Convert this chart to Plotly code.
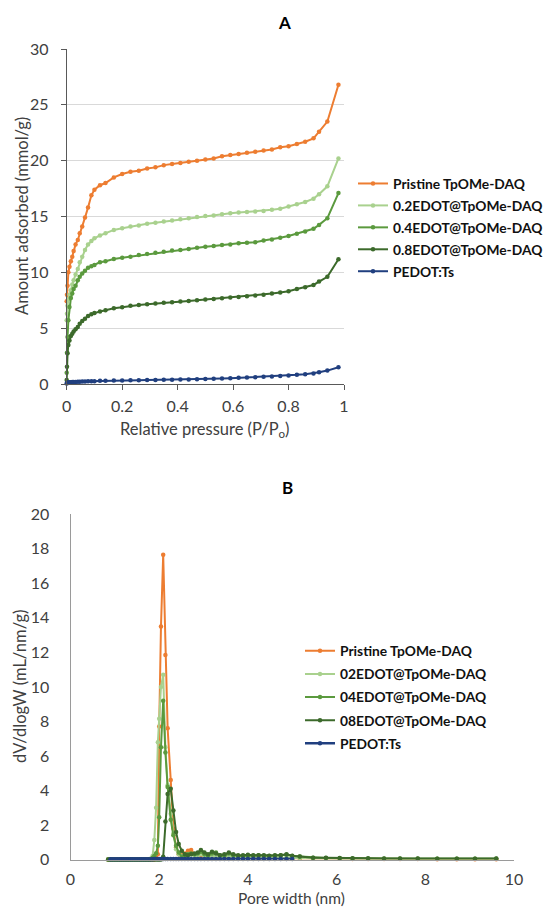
import plotly.graph_objects as go

# ---------------- Panel A : N2 isotherms ----------------
rel_pressure = [0.0, 0.001, 0.003, 0.006, 0.01, 0.015, 0.02, 0.025, 0.032, 0.04, 0.047, 0.056, 0.066, 0.077, 0.089, 0.1,
                0.12, 0.14, 0.17, 0.20, 0.23, 0.26, 0.29, 0.32, 0.35, 0.38, 0.41, 0.44, 0.47, 0.50, 0.53, 0.56, 0.59,
                0.62, 0.65, 0.68, 0.71, 0.74, 0.77, 0.80, 0.83, 0.86, 0.89, 0.91, 0.94, 0.98]

ads_pristine = [7.4, 8.0, 8.8, 10.0, 10.5, 11.0, 11.4, 11.9, 12.5, 12.9, 13.5, 14.1, 14.9, 15.8, 16.9, 17.4,
                17.8, 18.0, 18.5, 18.8, 19.0, 19.1, 19.3, 19.4, 19.6, 19.7, 19.8, 19.9, 20.0, 20.1, 20.2, 20.4, 20.5,
                20.6, 20.7, 20.8, 20.9, 21.0, 21.2, 21.3, 21.5, 21.7, 22.0, 22.6, 23.5, 26.8]
ads_02 = [5.7, 6.3, 7.0, 7.6, 8.0, 8.4, 8.9, 9.3, 9.8, 10.3, 10.9, 11.4, 12.0, 12.5, 12.8, 13.05,
          13.3, 13.5, 13.8, 13.95, 14.1, 14.2, 14.35, 14.45, 14.55, 14.65, 14.75, 14.85, 14.95, 15.05, 15.1, 15.2, 15.3,
          15.35, 15.4, 15.45, 15.5, 15.6, 15.7, 15.9, 16.1, 16.3, 16.6, 17.0, 17.7, 20.2]
ads_04 = [1.0, 2.8, 4.2, 5.7, 6.9, 7.7, 8.1, 8.5, 8.8, 9.3, 9.6, 9.9, 10.15, 10.4, 10.55, 10.66,
          10.9, 11.0, 11.2, 11.3, 11.4, 11.55, 11.65, 11.75, 11.85, 11.95, 12.0, 12.1, 12.2, 12.3, 12.35, 12.45, 12.5,
          12.6, 12.65, 12.7, 12.85, 12.95, 13.1, 13.25, 13.45, 13.65, 13.9, 14.25, 14.85, 17.1]
ads_08 = [0.35, 1.55, 2.75, 3.5, 3.9, 4.3, 4.5, 4.7, 4.9, 5.1, 5.4, 5.65, 5.85, 6.1, 6.25, 6.35,
          6.5, 6.6, 6.78, 6.87, 7.0, 7.08, 7.15, 7.22, 7.28, 7.33, 7.38, 7.44, 7.5, 7.56, 7.62, 7.68, 7.75,
          7.8, 7.86, 7.92, 8.0, 8.1, 8.2, 8.3, 8.5, 8.66, 8.87, 9.17, 9.6, 11.17]
ads_pedot = [0.05, 0.1, 0.12, 0.14, 0.15, 0.16, 0.17, 0.18, 0.19, 0.2, 0.21, 0.22, 0.23, 0.24, 0.25, 0.25,
             0.28, 0.3, 0.31, 0.32, 0.33, 0.34, 0.35, 0.36, 0.37, 0.38, 0.4, 0.41, 0.43, 0.45, 0.47, 0.49, 0.52,
             0.55, 0.58, 0.61, 0.64, 0.68, 0.72, 0.77, 0.82, 0.88, 0.95, 1.05, 1.2, 1.5]

names_a = ["Pristine TpOMe-DAQ", "0.2EDOT@TpOMe-DAQ", "0.4EDOT@TpOMe-DAQ", "0.8EDOT@TpOMe-DAQ", "PEDOT:Ts"]

# ---------------- Panel B : pore size distribution ----------------
pore_width = [0.85, 0.90, 0.95, 1.00, 1.05, 1.10, 1.15, 1.20, 1.25, 1.30, 1.35, 1.40, 1.45, 1.50, 1.55, 1.60, 1.65,
              1.70, 1.75, 1.80, 1.85,
              1.89, 1.93, 1.97, 2.00, 2.04, 2.09, 2.14, 2.19, 2.26, 2.32, 2.38, 2.44, 2.51, 2.58, 2.65, 2.72, 2.80,
              2.87, 2.94, 3.02,
              3.10, 3.19, 3.28, 3.37, 3.47, 3.57, 3.67, 3.78, 3.89, 4.00,
              4.12, 4.24, 4.36, 4.48, 4.61, 4.74, 4.87, 5.00,
              5.17, 5.47, 5.76, 6.07, 6.36, 6.71, 7.07, 7.43, 7.83, 8.27, 8.71, 9.12, 9.60]

psd_pristine = [0, 0, 0, 0, 0, 0, 0, 0, 0, 0, 0, 0, 0, 0, 0, 0, 0, 0, 0, 0, 0,
                0.0, 0.05, 0.3, 7.7, 13.5, 17.66, 11.85, 7.6, 4.6, 1.8, 0.7, 0.3, 0.25, 0.35, 0.5, 0.55, 0.3, 0.2, 0.15, 0.12,
                0.1, 0.12, 0.1, 0.1, 0.09, 0.1, 0.08, 0.08, 0.07, 0.07,
                0.07, 0.06, 0.06, 0.06, 0.06, 0.05, 0.05, 0.05,
                0.05, 0.04, 0.04, 0.04, 0.03, 0.03, 0.03, 0.03, 0.03, 0.02, 0.02, 0.02, 0.02]
psd_02 = [0, 0, 0, 0, 0, 0, 0, 0, 0, 0, 0, 0, 0, 0, 0, 0, 0, 0, 0, 0.05, 0.2,
          1.13, 3.0, 6.8, 8.15, 10.0, 10.7, 6.5, 4.3, 2.65, 1.5, 0.6, 0.3, 0.2, 0.25, 0.3, 0.3, 0.2, 0.25, 0.3, 0.2,
          0.15, 0.2, 0.15, 0.12, 0.15, 0.2, 0.12, 0.12, 0.1, 0.12,
          0.1, 0.12, 0.1, 0.1, 0.12, 0.1, 0.1, 0.08,
          0.08, 0.07, 0.06, 0.06, 0.05, 0.05, 0.05, 0.05, 0.04, 0.04, 0.04, 0.04, 0.04]
psd_04 = [0, 0, 0, 0, 0, 0, 0, 0, 0, 0, 0, 0, 0, 0, 0, 0, 0, 0, 0, 0, 0.1,
          0.2, 0.36, 0.8, 2.45, 6.5, 9.2, 6.2, 4.2, 2.3, 1.4, 0.8, 0.4, 0.16, 0.2, 0.3, 0.35, 0.3, 0.35, 0.45, 0.3,
          0.2, 0.35, 0.4, 0.25, 0.2, 0.35, 0.25, 0.2, 0.2, 0.22,
          0.22, 0.25, 0.22, 0.2, 0.22, 0.25, 0.28, 0.2,
          0.17, 0.1, 0.08, 0.07, 0.06, 0.05, 0.05, 0.05, 0.05, 0.04, 0.04, 0.04, 0.04]
psd_08 = [0, 0, 0, 0, 0, 0, 0, 0, 0, 0, 0, 0, 0, 0, 0, 0, 0, 0, 0, 0, 0,
          0, 0, 0, 0, 0, 0.16, 2.2, 3.8, 4.1, 2.84, 1.6, 0.9, 0.5, 0.3, 0.25, 0.3, 0.35, 0.4, 0.55, 0.4,
          0.3, 0.45, 0.35, 0.25, 0.3, 0.4, 0.3, 0.25, 0.25, 0.28,
          0.25, 0.25, 0.25, 0.22, 0.25, 0.25, 0.3, 0.22,
          0.17, 0.1, 0.1, 0.08, 0.07, 0.07, 0.06, 0.06, 0.06, 0.05, 0.05, 0.05, 0.06]
pedot_width = pore_width[1:59]
psd_pedot = [0.02, 0.02, 0.02, 0.02, 0.02, 0.02, 0.02, 0.02, 0.02, 0.02, 0.02, 0.02, 0.02, 0.02, 0.02, 0.02, 0.02,
             0.02, 0.02, 0.02,
             0.03, 0.03, 0.03, 0.03, 0.03, 0.03, 0.03, 0.03, 0.03, 0.03, 0.03, 0.03, 0.03, 0.03, 0.03, 0.03, 0.03,
             0.03, 0.03, 0.03,
             0.03, 0.03, 0.03, 0.03, 0.03, 0.03, 0.03, 0.03, 0.03, 0.03,
             0.03, 0.03, 0.03, 0.03, 0.03, 0.03, 0.03, 0.03]

names_b = ["Pristine TpOMe-DAQ", "02EDOT@TpOMe-DAQ", "04EDOT@TpOMe-DAQ", "08EDOT@TpOMe-DAQ", "PEDOT:Ts"]

colors = ["#ED7D31", "#A9D18E", "#5B9A3E", "#3C6A2B", "#203F7F"]

# the page body has an 8 px margin: the figure is drawn 8 px in from the window corner
OFF = 8
W, H = 555 - OFF, 907 - OFF
FONT = "Lato, 'Open Sans', sans-serif"
TXT = "#404040"

def px_x(p):
    return (p - OFF) / W

def px_y(p):
    return 1 - (p - OFF) / H

fig = go.Figure()

series_a = [ads_pristine, ads_02, ads_04, ads_08, ads_pedot]
for i, (nm, ys, c) in enumerate(zip(names_a, series_a, colors)):
    fig.add_trace(go.Scatter(
        x=rel_pressure, y=ys, name=nm, mode="lines+markers",
        line=dict(color=c, width=2), marker=dict(color=c, size=4.5),
        xaxis="x", yaxis="y", legend="legend", legendgroup="a%d" % i,
        cliponaxis=False, showlegend=True))

series_b = [(pore_width, psd_pristine), (pore_width, psd_02), (pore_width, psd_04),
            (pore_width, psd_08), (pedot_width, psd_pedot)]
for i, (nm, (xs, ys), c) in enumerate(zip(names_b, series_b, colors)):
    fig.add_trace(go.Scatter(
        x=xs, y=ys, name=nm, mode="lines+markers",
        line=dict(color=c, width=2.5 if i == 4 else 2), marker=dict(color=c, size=4.5),
        xaxis="x2", yaxis="y2", legend="legend2", legendgroup="b%d" % i,
        cliponaxis=False, showlegend=True))

tickfont = dict(family=FONT, size=16, color=TXT)
legfont = dict(family=FONT, size=13.8, color="#111111", weight="bold")

fig.update_layout(
    width=W, height=H,
    margin=dict(l=0, r=0, t=0, b=0, autoexpand=False),
    paper_bgcolor="white", plot_bgcolor="white",
    font=dict(family=FONT, color=TXT),
    xaxis=dict(domain=[px_x(66.7), px_x(344)], range=[0, 1], dtick=0.2, anchor="y",
               showgrid=False, zeroline=False, showline=True, linecolor="#595959", linewidth=1,
               ticks="outside", ticklen=5, tickcolor="#595959", tickfont=tickfont,
               tickvals=[0, 0.2, 0.4, 0.6, 0.8, 1], ticktext=["0", "0.2", "0.4", "0.6", "0.8", "1"],
               ticklabelstandoff=3, automargin=False),
    yaxis=dict(domain=[px_y(384), px_y(49)], range=[0, 30], dtick=5, anchor="x",
               showgrid=True, gridcolor="#D9D9D9", gridwidth=1, zeroline=False,
               showline=True, linecolor="#595959", linewidth=1,
               ticks="outside", ticklen=5, tickcolor="#595959", tickfont=tickfont,
               ticklabelstandoff=9, automargin=False),
    xaxis2=dict(domain=[px_x(70.5), px_x(514)], range=[0, 10], dtick=2, anchor="y2",
                showgrid=False, zeroline=False, showline=True, linecolor="#9A9A9A", linewidth=1,
                ticks="", tickfont=tickfont, ticklabelstandoff=5, automargin=False),
    yaxis2=dict(domain=[px_y(859.5), px_y(514.3)], range=[0, 20], dtick=2, anchor="x2",
                showgrid=False, zeroline=False, showline=True, linecolor="#9A9A9A", linewidth=1,
                ticks="", tickfont=tickfont, ticklabelstandoff=17, automargin=False),
    legend=dict(x=px_x(353), y=px_y(227.5), xanchor="left", yanchor="middle",
                font=legfont, bgcolor="rgba(0,0,0,0)", tracegroupgap=1, itemwidth=30),
    legend2=dict(x=px_x(300), y=px_y(697.3), xanchor="left", yanchor="middle",
                 font=legfont, bgcolor="rgba(0,0,0,0)", tracegroupgap=2.2, itemwidth=30),
    showlegend=True,
)

annos = [
    dict(text="<b>A</b>", x=px_x(284), y=px_y(22), size=17),
    dict(text="<b>B</b>", x=px_x(287), y=px_y(487), size=17),
    dict(text="Relative pressure (P/P<sub>o</sub>)", x=px_x(205), y=px_y(430), size=16.5),
    dict(text="Amount adsorbed (mmol/g)", x=px_x(22), y=px_y(216), size=16.5, angle=-90),
    dict(text="Pore width (nm)", x=px_x(292), y=px_y(898), size=15.5),
    dict(text="dV/dlogW (mL/nm/g)", x=px_x(20), y=px_y(687), size=16.5, angle=-90),
]
for a in annos:
    fig.add_annotation(text=a["text"], x=a["x"], y=a["y"], xref="paper", yref="paper",
                       xanchor="center", yanchor="middle", showarrow=False,
                       textangle=a.get("angle", 0),
                       font=dict(family=FONT, size=a["size"],
                                 color="#000000" if a["text"].startswith("<b>") else TXT))

fig.write_html("out.html")
